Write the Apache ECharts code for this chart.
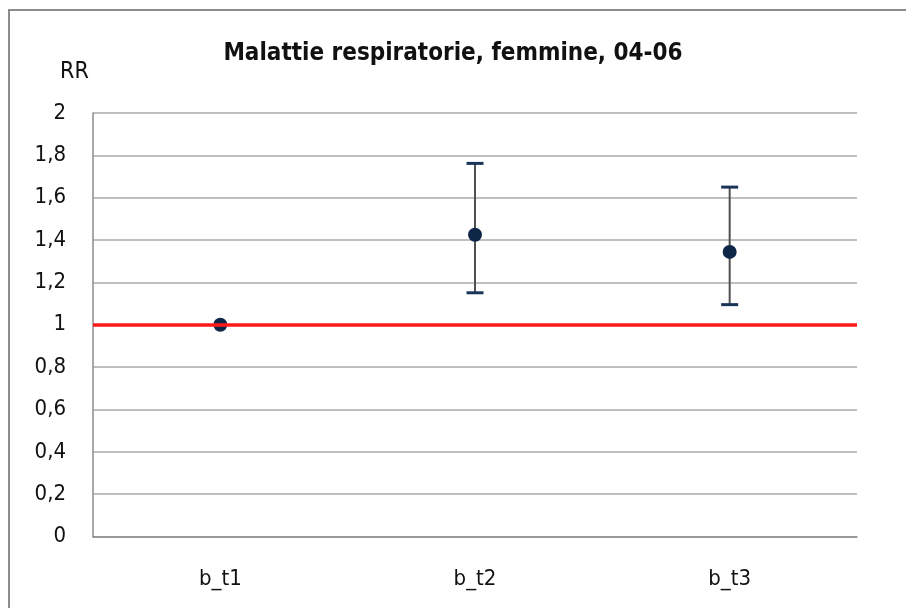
<!DOCTYPE html>
<html>
<head>
<meta charset="utf-8">
<script src="https://cdn.jsdelivr.net/npm/echarts@6/dist/echarts.min.js"></script>
<style>
  html, body { margin: 0; padding: 0; background: #fff; }
  #main { width: 906px; height: 608px; }
</style>
</head>
<body>
<div id="main"></div>
<script>
var categories = ['b_t1', 'b_t2', 'b_t3'];
var rrValues = [1, 1.425, 1.344];
var lowerCI = [null, 1.151, 1.095];
var upperCI = [null, 1.762, 1.650];
var refValue = 1;
var yTicks = { min: 0, max: 2, interval: 0.2 };

var font = "'Liberation Sans Narrow', 'DejaVu Sans Condensed', sans-serif";

var myChart = echarts.init(document.getElementById('main'));

// dati per le barre di errore
var errData = [];
for (var i = 0; i < categories.length; i++) {
  if (lowerCI[i] != null) {
    errData.push([i, lowerCI[i], upperCI[i]]);
  }
}

var option = {
  backgroundColor: '#fff',
  animation: false,
  title: {
    text: 'Malattie respiratorie, femmine, 04-06',
    left: 'center',
    top: 37,
    textStyle: { fontFamily: font, fontSize: 24, fontWeight: 'bold', color: '#111' }
  },
  graphic: [
    {
      type: 'rect',
      shape: { x: 9, y: 10, width: 1000, height: 1000 },
      style: { fill: 'none', stroke: '#8c8c8c', lineWidth: 2 },
      silent: true
    },
    {
      type: 'text',
      left: 60,
      top: 61,
      style: { text: 'RR', font: '23px ' + font, fill: '#111' }
    }
  ],
  grid: { left: 93, right: 49, top: 113, bottom: 71.5 },
  xAxis: {
    type: 'category',
    data: categories,
    boundaryGap: true,
    axisLine: { show: true, lineStyle: { color: '#8c8c8c', width: 1.5 } },
    axisTick: { show: false },
    axisLabel: { fontFamily: font, fontSize: 22, color: '#111', margin: 32 }
  },
  yAxis: {
    type: 'value',
    min: yTicks.min,
    max: yTicks.max,
    interval: yTicks.interval,
    axisLine: { show: true, lineStyle: { color: '#8c8c8c', width: 1.5 } },
    axisTick: { show: false },
    splitLine: { lineStyle: { color: '#aaaaaa', width: 1.5 } },
    axisLabel: {
      fontFamily: font, fontSize: 22, color: '#111', margin: 27,
      formatter: function (v) {
        return String(Math.round(v * 10) / 10).replace('.', ',');
      }
    }
  },
  series: [
    {
      name: 'IC',
      type: 'custom',
      z: 3,
      data: errData,
      renderItem: function (params, api) {
        var x = api.value(0);
        var lo = api.coord([x, api.value(1)]);
        var hi = api.coord([x, api.value(2)]);
        var hw = 8.5;
        return {
          type: 'group',
          children: [
            {
              type: 'line',
              shape: { x1: lo[0], y1: lo[1], x2: hi[0], y2: hi[1] },
              style: { stroke: '#505050', lineWidth: 2 }
            },
            {
              type: 'line',
              shape: { x1: hi[0] - hw, y1: hi[1], x2: hi[0] + hw, y2: hi[1] },
              style: { stroke: '#1b3558', lineWidth: 3 }
            },
            {
              type: 'line',
              shape: { x1: lo[0] - hw, y1: lo[1], x2: lo[0] + hw, y2: lo[1] },
              style: { stroke: '#1b3558', lineWidth: 3 }
            }
          ]
        };
      }
    },
    {
      name: 'RR',
      type: 'scatter',
      z: 4,
      data: rrValues,
      symbolSize: 14,
      itemStyle: { color: '#0f2746', opacity: 1 },
      markLine: {
        silent: true,
        symbol: 'none',
        label: { show: false },
        lineStyle: { color: '#ff1a1a', width: 3.5, type: 'solid' },
        data: [{ yAxis: refValue }]
      }
    }
  ]
};

myChart.setOption(option);
</script>
</body>
</html>
